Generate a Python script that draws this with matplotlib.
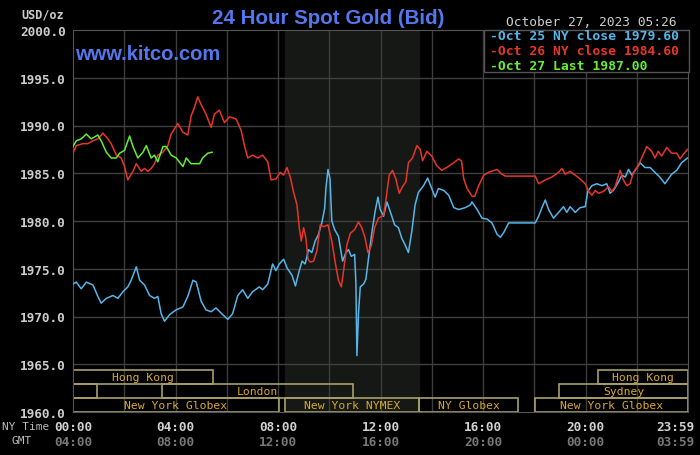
import numpy as np
import matplotlib.pyplot as plt
from matplotlib.patches import Rectangle
from matplotlib.transforms import blended_transform_factory, ScaledTranslation

# Oct 25 (blue), horas NY e preco
blue_h = [0, 0.13, 0.32, 0.52, 0.78, 0.97, 1.10, 1.30, 1.56, 1.75, 1.95, 2.14, 2.27, 2.47, 2.60,
          2.79, 2.99, 3.18, 3.31, 3.44, 3.57, 3.77, 4.03, 4.29, 4.48, 4.68, 4.81, 5.0, 5.19, 5.39,
          5.58, 5.84, 6.04, 6.23, 6.43, 6.62, 6.82, 7.01, 7.27, 7.40, 7.60, 7.79, 7.92, 8.05, 8.22,
          8.35, 8.55, 8.68, 8.83, 8.94, 9.06, 9.19, 9.32, 9.45, 9.58, 9.71, 9.82, 9.87, 9.95, 10.03,
          10.10, 10.21, 10.36, 10.52, 10.65, 10.75, 10.86, 10.99, 11.04, 11.08, 11.14, 11.21, 11.34,
          11.43, 11.56, 11.69, 11.79, 11.90, 11.99, 12.12, 12.25, 12.38, 12.55, 12.70, 12.83, 12.96,
          13.09, 13.22, 13.35, 13.48, 13.68, 13.84, 14.0, 14.13, 14.26, 14.47, 14.66, 14.86, 15.05,
          15.31, 15.51, 15.57, 15.77, 15.96, 16.16, 16.35, 16.55, 16.68, 16.81, 17.0, 18.04, 18.17,
          18.30, 18.43, 18.56, 18.75, 18.95, 19.14, 19.27, 19.40, 19.60, 19.79, 19.99, 20.09, 20.25,
          20.44, 20.64, 20.83, 20.96, 21.09, 21.29, 21.42, 21.55, 21.68, 21.81, 21.94, 22.13, 22.32,
          22.52, 22.71, 22.90, 23.10, 23.23, 23.36, 23.56, 23.75, 23.98]
blue_v = [1973.4, 1973.6, 1972.9, 1973.6, 1973.3, 1972.1, 1971.4, 1971.9, 1972.2, 1971.9, 1972.6,
          1973.1, 1973.8, 1975.2, 1973.8, 1973.3, 1972.2, 1971.9, 1972.1, 1970.3, 1969.5, 1970.2,
          1970.7, 1971.0, 1972.1, 1973.8, 1973.6, 1971.6, 1970.7, 1970.5, 1970.9, 1970.2, 1969.7,
          1970.3, 1972.2, 1972.8, 1971.9, 1972.6, 1973.1, 1972.8, 1973.4, 1975.5, 1974.8, 1975.5,
          1976.0, 1975.1, 1974.3, 1973.2, 1974.8, 1975.8, 1975.5, 1977.0, 1976.7, 1977.9, 1978.6,
          1979.8, 1981.3, 1983.4, 1985.4, 1984.4, 1980.0, 1979.1, 1978.4, 1975.8, 1976.7, 1977.0,
          1976.3, 1976.5, 1973.5, 1965.9, 1970.3, 1973.1, 1973.4, 1973.9, 1976.7, 1979.3, 1981.0,
          1982.5, 1981.2, 1980.5, 1982.0, 1981.0, 1979.6, 1979.3, 1978.2, 1977.5, 1976.7, 1978.9,
          1981.7, 1983.0, 1983.7, 1984.5, 1983.4, 1982.5, 1983.4, 1983.2, 1982.7, 1981.4, 1981.2,
          1981.4, 1981.7, 1982.0, 1981.2, 1980.3, 1980.2, 1979.8, 1978.6, 1978.3, 1978.8, 1979.8,
          1979.8, 1980.5, 1981.4, 1982.2, 1981.2, 1980.3, 1980.9, 1981.5, 1980.9, 1981.5, 1980.9,
          1981.4, 1981.5, 1983.1, 1983.7, 1983.9, 1983.7, 1983.9, 1982.9, 1983.2, 1984.1, 1984.8,
          1984.6, 1985.4, 1984.8, 1985.3, 1986.1, 1985.6, 1985.6, 1985.1, 1984.6, 1983.9, 1984.4,
          1984.9, 1985.3, 1986.1, 1986.6]

# Oct 26 (red)
red_h = [0, 0.13, 0.39, 0.58, 0.78, 0.97, 1.17, 1.36, 1.49, 1.69, 1.88, 2.01, 2.14, 2.34, 2.47,
         2.66, 2.79, 2.92, 3.05, 3.18, 3.31, 3.51, 3.70, 3.83, 4.09, 4.29, 4.48, 4.61, 4.74, 4.87,
         5.0, 5.19, 5.39, 5.52, 5.71, 5.91, 6.10, 6.36, 6.56, 6.69, 6.82, 7.01, 7.21, 7.40, 7.60,
         7.73, 7.92, 8.09, 8.22, 8.35, 8.48, 8.61, 8.74, 8.83, 8.91, 9.0, 9.09, 9.17, 9.26, 9.39,
         9.52, 9.65, 9.78, 9.95, 10.10, 10.23, 10.36, 10.47, 10.56, 10.69, 10.82, 10.99, 11.14,
         11.27, 11.40, 11.51, 11.64, 11.77, 11.92, 12.12, 12.21, 12.34, 12.47, 12.60, 12.73, 12.86,
         12.99, 13.09, 13.25, 13.42, 13.55, 13.64, 13.81, 14.0, 14.19, 14.39, 14.58, 14.86, 15.05,
         15.16, 15.25, 15.38, 15.57, 15.68, 15.83, 16.03, 16.22, 16.55, 16.74, 16.87, 18.04, 18.17,
         18.43, 18.69, 18.95, 19.08, 19.21, 19.40, 19.60, 19.79, 19.99, 20.12, 20.25, 20.38, 20.51,
         20.70, 20.90, 21.03, 21.16, 21.35, 21.48, 21.61, 21.74, 21.87, 22.06, 22.26, 22.39, 22.58,
         22.71, 22.84, 22.97, 23.17, 23.36, 23.56, 23.69, 23.82, 23.98]
red_v = [1987.1, 1987.9, 1988.1, 1988.1, 1988.4, 1988.6, 1989.2, 1988.6, 1988.1, 1986.9, 1986.6,
         1985.7, 1984.3, 1985.2, 1986.0, 1985.2, 1985.5, 1985.2, 1985.5, 1986.0, 1986.9, 1987.2,
         1987.9, 1989.1, 1990.2, 1989.3, 1989.0, 1991.0, 1991.9, 1993.0, 1992.2, 1991.2, 1989.8,
         1991.2, 1991.6, 1990.3, 1990.9, 1990.7, 1989.5, 1987.9, 1986.6, 1986.9, 1986.6, 1986.9,
         1986.2, 1984.3, 1984.4, 1985.1, 1984.8, 1985.6, 1984.6, 1983.0, 1981.7, 1979.3, 1977.9,
         1979.3, 1978.2, 1976.0, 1975.7, 1975.8, 1976.9, 1979.6, 1979.4, 1979.6, 1977.9, 1975.7,
         1973.8, 1973.1, 1974.8, 1977.5, 1978.7, 1979.1, 1979.9, 1979.3, 1978.2, 1976.7, 1977.4,
         1979.3, 1980.3, 1980.6, 1982.2, 1984.8, 1985.3, 1984.4, 1982.9, 1983.6, 1984.1, 1986.1,
         1986.6, 1987.9, 1987.5, 1986.3, 1987.3, 1986.8, 1985.8, 1985.3, 1985.6, 1986.1, 1986.5,
         1986.3, 1984.4, 1983.4, 1982.6, 1982.6, 1983.7, 1984.8, 1985.1, 1985.4, 1984.9, 1984.7,
         1984.7, 1983.9, 1984.3, 1984.6, 1985.1, 1985.5, 1984.9, 1985.2, 1984.8, 1984.4, 1983.9,
         1983.1, 1982.7, 1983.2, 1982.9, 1983.1, 1983.6, 1983.1, 1983.6, 1985.3, 1984.3, 1983.7,
         1983.9, 1985.1, 1985.8, 1987.0, 1987.8, 1987.3, 1986.6, 1987.3, 1986.8, 1987.7, 1987.1,
         1987.1, 1986.5, 1987.0, 1987.5]

# Oct 27 (green), ate 05:26
green_h = [0, 0.13, 0.32, 0.52, 0.71, 0.97, 1.10, 1.30, 1.49, 1.69, 1.82, 2.01, 2.21, 2.34, 2.53,
           2.73, 2.86, 3.05, 3.18, 3.31, 3.51, 3.64, 3.83, 4.03, 4.29, 4.42, 4.61, 4.81, 4.94, 5.06,
           5.26, 5.43]
green_v = [1987.8, 1988.4, 1988.6, 1989.1, 1988.6, 1989.0, 1988.4, 1987.2, 1986.6, 1986.6, 1987.1,
           1987.4, 1988.9, 1987.8, 1986.6, 1987.2, 1987.9, 1986.6, 1986.9, 1986.2, 1987.8, 1987.8,
           1986.9, 1986.6, 1985.7, 1986.6, 1986.0, 1986.0, 1986.0, 1986.6, 1987.1, 1987.2]

legend_labels = ['Oct 25 NY close 1979.60', 'Oct 26 NY close 1984.60', 'Oct 27 Last 1987.00']

# sessoes: (linha, inicio, fim, nome)
sessions = [(0, 0, 5.46, 'Hong Kong'), (0, 20.5, 24, 'Hong Kong'),
            (1, 0, 0.94, ''), (1, 3.47, 10.93, 'London'), (1, 18.97, 24, 'Sydney'),
            (2, 0, 8.04, 'New York Globex'), (2, 8.27, 13.5, 'New York NYMEX'),
            (2, 13.5, 17.37, 'NY Globex'), (2, 18.03, 24, 'New York Globex')]
nymex = (8.27, 13.5)

x_ticks = [0, 4, 8, 12, 16, 20, 23.98]
ny_labels = ['00:00', '04:00', '08:00', '12:00', '16:00', '20:00', '23:59']
gmt_labels = ['04:00', '08:00', '12:00', '16:00', '20:00', '00:00', '03:59']
y_ticks = [1960, 1965, 1970, 1975, 1980, 1985, 1990, 1995, 2000]

c_blue = '#55b6ea'
c_red = '#e8352a'
c_green = '#66ee33'
c_title = '#5577ee'
mono = 'DejaVu Sans Mono'

fig = plt.figure(figsize=(7, 4.56), dpi=100, facecolor='black')
ax = fig.add_axes([73/700, 1-413/456, 615/700, 382/456])
ax.set_facecolor('black')
ax.set_xlim(0, 24)
ax.set_ylim(1960, 2000)

ax.axvspan(nymex[0], nymex[1], color='#151815', zorder=0)
for x in np.arange(2, 24, 2):
    ax.axvline(x, color='#3c3c3c', lw=1, zorder=1)
for y in y_ticks[1:-1]:
    ax.axhline(y, color='#404040', lw=1, zorder=1)

# barras das sessoes
row_h = 1.45
for row, start, end, name in sessions:
    y0 = 1960 + (2 - row) * row_h
    ax.add_patch(Rectangle((start, y0), end - start, row_h, fill=False,
                           edgecolor='#a89f6a', lw=1.2, zorder=2, clip_on=True))
    if name:
        ax.text((start + end) / 2, y0 + row_h / 2, name, color='#d9aa2a', fontsize=8.2,
                family=mono, ha='center', va='center', zorder=3)

ax.plot(blue_h, blue_v, color=c_blue, lw=1.1, zorder=4)
ax.plot(red_h, red_v, color=c_red, lw=1.1, zorder=5)
ax.plot(green_h, green_v, color=c_green, lw=1.1, zorder=6)

for s in ax.spines.values():
    s.set_color('#555555')
ax.tick_params(length=0, colors='#cccccc')
ax.set_yticks(y_ticks)
ax.set_yticklabels(['%.1f' % v for v in y_ticks], family=mono, fontweight='bold', fontsize=9.2)
ax.tick_params(axis='y', pad=5)
ax.set_xticks([])

# etiquetas de hora NY e GMT
tr = blended_transform_factory(ax.transData, fig.transFigure)
for i, x in enumerate(x_ticks):
    t = tr
    if i == len(x_ticks) - 1:
        t = tr + ScaledTranslation(-12/100, 0, fig.dpi_scale_trans)
    ax.text(x, 1-428/456, ny_labels[i], transform=t, color='#d0d0d0', family=mono,
            fontweight='bold', fontsize=9.2, ha='center', va='center')
    ax.text(x, 1-443/456, gmt_labels[i], transform=t, color='#777777', family=mono,
            fontweight='bold', fontsize=9.2, ha='center', va='center')
fig.text(2/700, 1-427/456, 'NY Time', color='#bbbbbb', family=mono, fontsize=8, va='center')
fig.text(12/700, 1-441/456, 'GMT', color='#bbbbbb', family=mono, fontsize=8, va='center')
fig.text(21/700, 1-15/456, 'USD/oz', color='#cccccc', family=mono, fontsize=8.5,
         fontweight='bold', va='center')

fig.text(328/700, 1-18/456, '24 Hour Spot Gold (Bid)', color=c_title, fontsize=14.8,
         family='Liberation Sans', fontweight='bold', ha='center', va='center')
fig.text(75/700, 1-55/456, 'www.kitco.com', color=c_title, fontsize=14.5,
         family='Liberation Sans', fontweight='bold', va='center')
fig.text(677/700, 1-22/456, 'October 27, 2023 05:26', color='#cccccc', family=mono,
         fontsize=9.3, ha='right', va='center')

# caixa da legenda
fig.add_artist(Rectangle((484/700, 1-73/456), 205/700, 42/456, transform=fig.transFigure,
                         facecolor='black', edgecolor='#555555', lw=1))
for i, (lab, col) in enumerate(zip(legend_labels, [c_blue, c_red, c_green])):
    fig.text(490/700, 1-(37 + 14.5*i)/456, '-' + lab, color=col, family=mono,
             fontweight='bold', fontsize=9.4, va='center')

fig.savefig('out.png', dpi=100, facecolor='black')
